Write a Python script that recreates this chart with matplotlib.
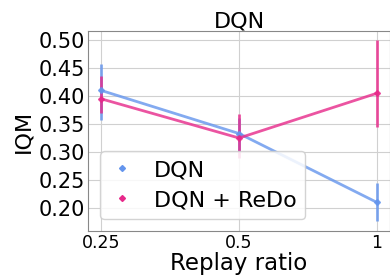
import matplotlib.pyplot as plt
from matplotlib.lines import Line2D

# Data
ratios = ['0.25', '0.5', '1']
dqn = [0.41, 0.333, 0.210]
dqn_lo = [0.358, 0.300, 0.176]
dqn_hi = [0.458, 0.360, 0.245]
redo = [0.395, 0.325, 0.405]
redo_lo = [0.369, 0.289, 0.345]
redo_hi = [0.435, 0.368, 0.500]

c_dqn = '#6495ED'
c_redo = '#E7298A'

fig = plt.figure(figsize=(3.9, 2.77), dpi=100)
ax = fig.add_axes([0.226, 0.166, 0.774, 0.722])

x = list(range(len(ratios)))
for vals, lo, hi, col in [(dqn, dqn_lo, dqn_hi, c_dqn), (redo, redo_lo, redo_hi, c_redo)]:
    yerr = [[v - l for v, l in zip(vals, lo)], [h - v for v, h in zip(vals, hi)]]
    ax.errorbar(x, vals, yerr=yerr, color=col, marker='D', markersize=3,
                lw=2, elinewidth=2, alpha=0.8, capsize=0)

ax.set_xticks(x)
ax.set_xticklabels(ratios, fontsize=12.5)
ax.set_xlim(-0.094, 2.094)
ax.set_ylim(0.159, 0.516)
ax.set_yticks([0.20, 0.25, 0.30, 0.35, 0.40, 0.45, 0.50])
ax.set_yticklabels(['%.2f' % t for t in ax.get_yticks()], fontsize=15)
ax.tick_params(length=0, pad=2)
ax.grid(True, color='#d0d0d0', lw=0.8)
for s in ax.spines.values():
    s.set_color('#888888')

ax.set_title('DQN', fontsize=16, pad=2)
ax.set_xlabel('Replay ratio', fontsize=16.5, labelpad=0)
ax.set_ylabel('IQM', fontsize=16, labelpad=4)

handles = [Line2D([], [], color=c_dqn, marker='D', markersize=3, ls='none'),
           Line2D([], [], color=c_redo, marker='D', markersize=3, ls='none')]
ax.legend(handles, ['DQN', 'DQN + ReDo'], fontsize=16, loc='lower left',
          bbox_to_anchor=(0.04, 0.06), borderaxespad=0, framealpha=0.85,
          handlelength=1.2, labelspacing=0.45)

fig.savefig('out.png', dpi=100)
